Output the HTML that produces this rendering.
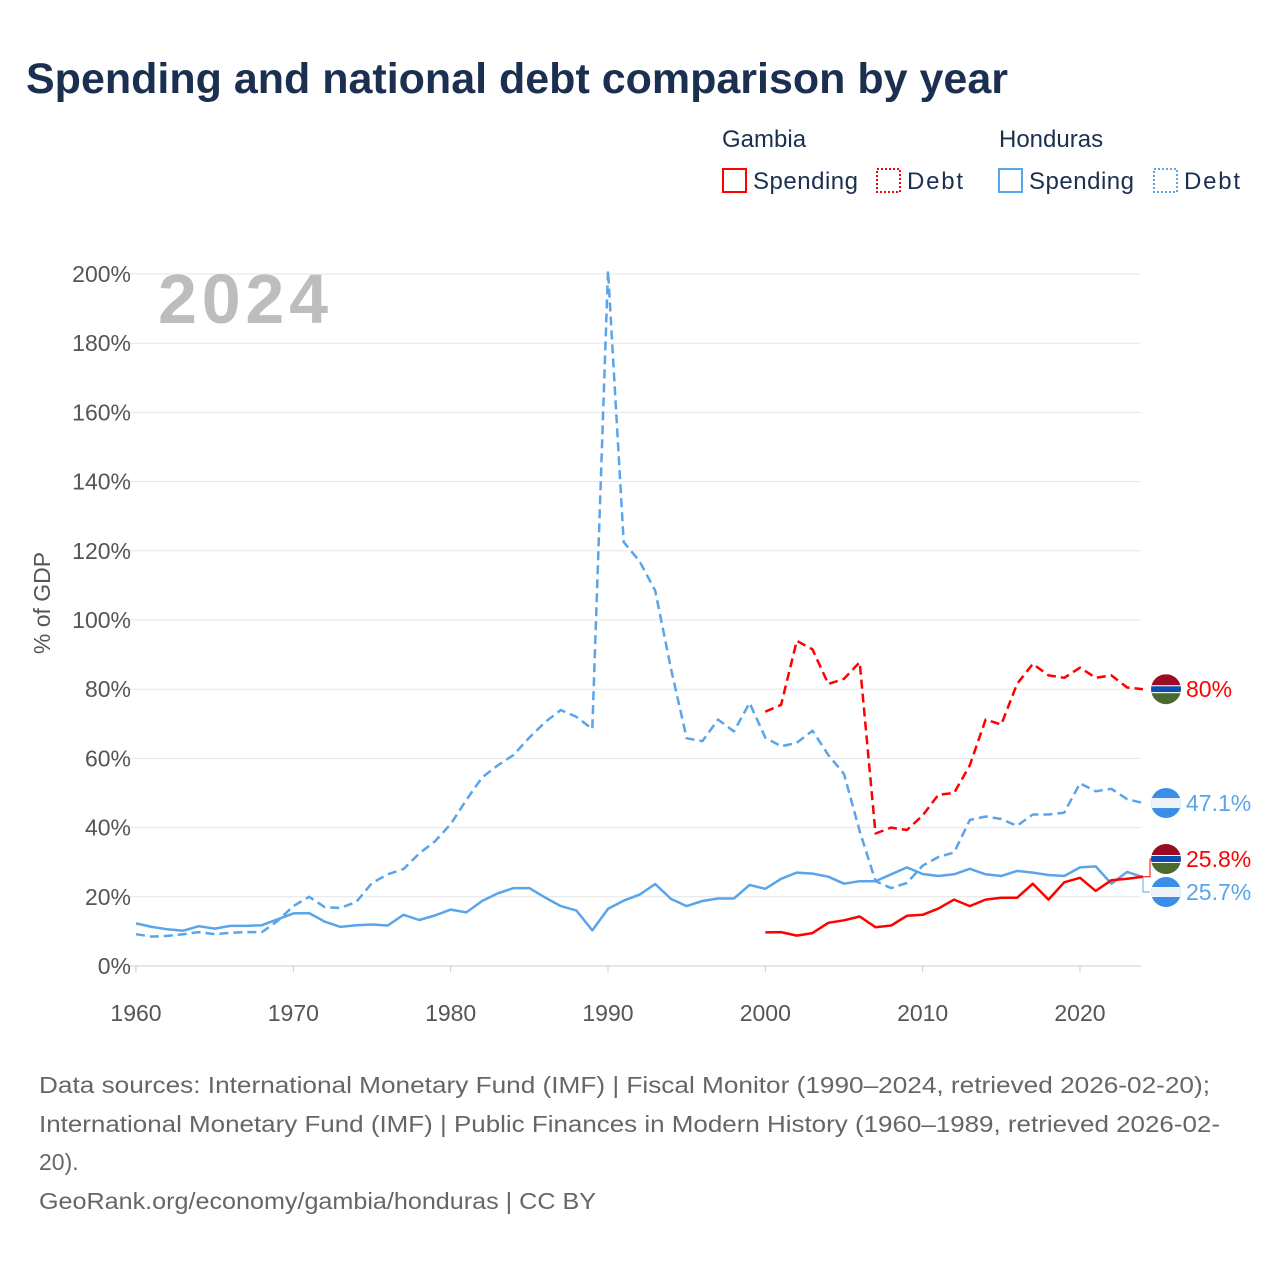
<!DOCTYPE html>
<html><head><meta charset="utf-8">
<style>
body{margin:0;background:#fff;font-family:"Liberation Sans",sans-serif;}
svg text{font-family:"Liberation Sans",sans-serif;}
</style></head>
<body>
<svg width="1280" height="1280" viewBox="0 0 1280 1280">
<text x="26" y="93" font-size="43" font-weight="bold" fill="#1b3050">Spending and national debt comparison by year</text>
<g font-size="24" fill="#1b3050">
<text x="722" y="147">Gambia</text>
<text x="999" y="147">Honduras</text>
<g><rect x="723" y="169" width="23" height="23" fill="none" stroke="#f00" stroke-width="2"/><text x="753" y="189" textLength="105">Spending</text></g>
<g><rect x="877" y="169" width="23" height="23" fill="none" stroke="#f00" stroke-width="2" stroke-dasharray="2 2"/><text x="907" y="189" textLength="56">Debt</text></g>
<g><rect x="999" y="169" width="23" height="23" fill="none" stroke="#5aa5ea" stroke-width="2"/><text x="1029" y="189" textLength="105">Spending</text></g>
<g><rect x="1154" y="169" width="23" height="23" fill="none" stroke="#5aa5ea" stroke-width="2" stroke-dasharray="2 2"/><text x="1184" y="189" textLength="56">Debt</text></g>
</g>
<g id="grid"></g>
<g id="yticks" font-size="23" fill="#555" text-anchor="end"></g>
<g id="xticks" font-size="23" fill="#555" text-anchor="middle"></g>
<text x="243" y="323" font-size="70" font-weight="bold" fill="#bdbdbd" text-anchor="middle" textLength="170">2024</text>
<text transform="translate(50,603) rotate(-90)" font-size="23" fill="#555" text-anchor="middle">% of GDP</text>
<g id="series"></g>
<g id="endlabels"></g>
<g font-size="23" fill="#666">
<text x="39" y="1093" textLength="1171" lengthAdjust="spacingAndGlyphs">Data sources: International Monetary Fund (IMF) | Fiscal Monitor (1990–2024, retrieved 2026-02-20);</text>
<text x="39" y="1132" textLength="1181" lengthAdjust="spacingAndGlyphs">International Monetary Fund (IMF) | Public Finances in Modern History (1960–1989, retrieved 2026-02-</text>
<text x="39" y="1170">20).</text>
<text x="39" y="1209" textLength="557" lengthAdjust="spacingAndGlyphs">GeoRank.org/economy/gambia/honduras | CC BY</text>
</g>
</svg>
<script>
const yTicks=[0,20,40,60,80,100,120,140,160,180,200];
const xTicks=[1960,1970,1980,1990,2000,2010,2020];
const hondurasYears0=1960;
const hondurasSpending=[12.3,11.3,10.6,10.2,11.5,10.8,11.6,11.6,11.8,13.5,15.2,15.3,12.8,11.3,11.8,12.0,11.7,14.8,13.3,14.6,16.3,15.5,18.8,21.0,22.5,22.5,19.8,17.3,16.0,10.3,16.5,18.9,20.6,23.7,19.4,17.3,18.8,19.5,19.5,23.4,22.3,25.2,27.0,26.7,25.8,23.8,24.5,24.5,26.5,28.5,26.6,26.0,26.5,28.1,26.5,26.0,27.5,27.0,26.3,26.0,28.5,28.8,23.8,27.2,25.7];
const hondurasDebt=[9.2,8.5,8.7,9.2,9.8,9.2,9.6,9.8,9.8,13.0,17.3,20.0,17.0,16.8,18.5,24.0,26.5,28.0,32.5,36.0,41.0,48.0,54.5,58.0,61.0,66.0,70.5,74.0,72.0,68.5,201,122.5,117,108.5,86,65.8,65,71.2,67.8,76,66,63.5,64.5,68,61,55.5,39,24.5,22.5,24,29,31.5,32.8,42.2,43.2,42.5,40.5,43.8,43.8,44.3,52.8,50.5,51.2,48.2,47.1];
const gambiaYears0=2000;
const gambiaDebt=[73.5,75.5,94,91.5,81.5,83,87.8,38.3,40,39.3,43.5,49.5,50,58,71.2,69.8,81.5,87.3,84,83.3,86.2,83.3,84,80.5,80];
const gambiaSpending=[9.7,9.8,8.8,9.5,12.5,13.2,14.3,11.2,11.7,14.5,14.8,16.6,19.2,17.3,19.2,19.7,19.7,23.8,19.2,24.2,25.5,21.7,24.8,25.2,25.8];

const NS="http://www.w3.org/2000/svg";
const X=yr=>136+(yr-1960)*15.733;
const Y=v=>966-v*3.46;
function mk(tag,attrs,parent){const e=document.createElementNS(NS,tag);for(const k in attrs)e.setAttribute(k,attrs[k]);parent.appendChild(e);return e;}
const grid=document.getElementById('grid'),yt=document.getElementById('yticks'),xt=document.getElementById('xticks');
yTicks.forEach(v=>{
 const l=mk('line',{x1:130,x2:1141,y1:Y(v),y2:Y(v),stroke:v===0?'#ccc':'#e6e6e6','stroke-width':1},grid);
 
 
 const t=mk('text',{x:131,y:Y(v)+8},yt);t.textContent=v+'%';
 
 
});
xTicks.forEach(v=>{
 const t=mk('text',{x:X(v),y:1021},xt);t.textContent=v;
 
 
 const k=mk('line',{x1:X(v),x2:X(v),y1:966,y2:972,stroke:'#ccc'},xt);
 
 
});
const ser=document.getElementById('series');
function line(arr,y0,color,dash,name){
 const d=arr.map((v,i)=>(i?'L':'M')+X(y0+i).toFixed(1)+','+Y(v).toFixed(1)).join('');
 const p=mk('path',{d:d,fill:'none',stroke:color,'stroke-width':2.5,'stroke-linejoin':'round'},ser);
 if(dash)p.setAttribute('stroke-dasharray','9 5');
 
 
}
line(hondurasSpending,hondurasYears0,'#5aa5ea',false,'honduras-spending-line');
line(hondurasDebt,hondurasYears0,'#5aa5ea',true,'honduras-debt-line');
line(gambiaSpending,gambiaYears0,'#f00',false,'gambia-spending-line');
line(gambiaDebt,gambiaYears0,'#f00',true,'gambia-debt-line');

const el=document.getElementById('endlabels');
function flag(cy,type){
 const cx=1166,r=15;const g=mk('g',{},el);
 const id='c'+Math.round(cy);
 const cp=mk('clipPath',{id:id},g);mk('circle',{cx:cx,cy:cy,r:r},cp);
 const f=mk('g',{'clip-path':'url(#'+id+')'},g);
 if(type==='gm'){
  mk('rect',{x:cx-r,y:cy-r,width:2*r,height:r-3,fill:'#9b0b22'},f);
  mk('rect',{x:cx-r,y:cy-3,width:2*r,height:6,fill:'#0a4fb0'},f);
  mk('rect',{x:cx-r,y:cy-4,width:2*r,height:1,fill:'#fff'},f);
  mk('rect',{x:cx-r,y:cy+3,width:2*r,height:1,fill:'#fff'},f);
  mk('rect',{x:cx-r,y:cy+4,width:2*r,height:r,fill:'#4a6b2e'},f);
 }else{
  mk('rect',{x:cx-r,y:cy-r,width:2*r,height:2*r,fill:'#3b8ee8'},f);
  mk('rect',{x:cx-r,y:cy-5,width:2*r,height:10,fill:'#eef3f8'},f);
 }
 
 
}
function lab(cy,txt,color,name){
 const t=mk('text',{x:1186,y:cy+8,'font-size':23,fill:color},el);t.textContent=txt;
 
 
}
const gdL=gambiaDebt[gambiaDebt.length-1],hdL=hondurasDebt[hondurasDebt.length-1];
const gsL=gambiaSpending[gambiaSpending.length-1],hsL=hondurasSpending[hondurasSpending.length-1];
flag(Y(gdL),'gm');lab(Y(gdL),gdL+'%','#f00','gambia-debt-label');
flag(Y(hdL),'hn');lab(Y(hdL),hdL+'%','#5aa5ea','honduras-debt-label');
const gy=859,hy=892;
mk('path',{d:`M1143,${Y(gsL)}L1150,${Y(gsL)}L1150,${gy}L1154,${gy}`,fill:'none',stroke:'#f00','stroke-width':1},el);
mk('path',{d:`M1143,${Y(hsL)}L1143,${hy}L1150,${hy}`,fill:'none',stroke:'#5aa5ea','stroke-width':1},el);
flag(gy,'gm');lab(gy,gsL+'%','#f00','gambia-spending-label');
flag(hy,'hn');lab(hy,hsL+'%','#5aa5ea','honduras-spending-label');
</script>
</body></html>
